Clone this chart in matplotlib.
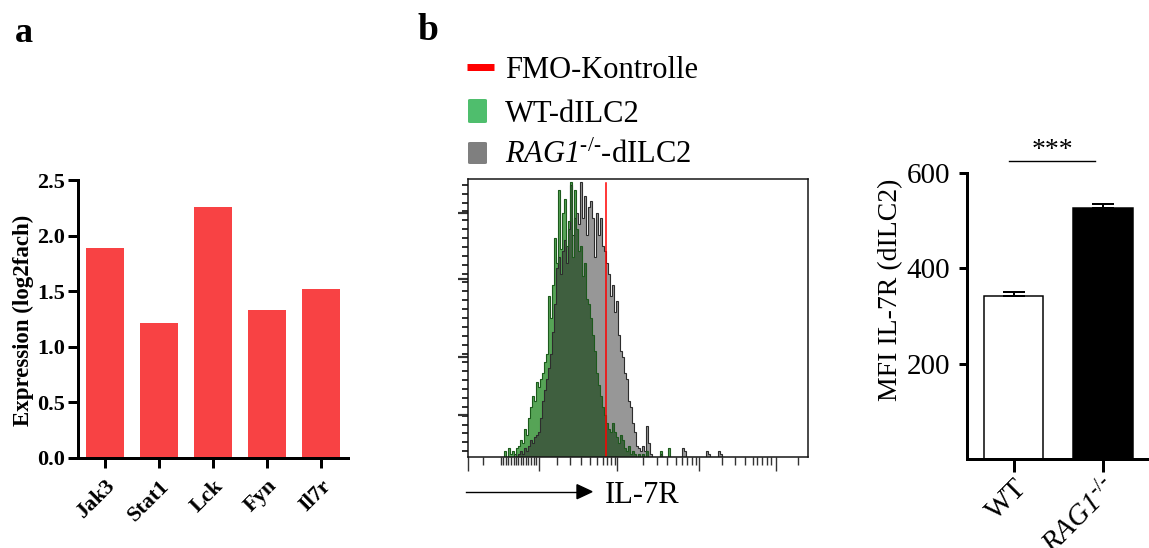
import numpy as np
import matplotlib
matplotlib.use('Agg')
import matplotlib.pyplot as plt
from matplotlib.lines import Line2D
from matplotlib.patches import Polygon, FancyBboxPatch

plt.rcParams['font.family'] = ['Liberation Serif', 'DejaVu Serif']
plt.rcParams['mathtext.fontset'] = 'custom'
plt.rcParams['mathtext.rm'] = 'Liberation Serif'
plt.rcParams['mathtext.it'] = 'Liberation Serif:italic'
plt.rcParams['mathtext.sf'] = 'Liberation Serif:italic'
plt.rcParams['mathtext.bf'] = 'Liberation Serif:bold'

# ---------------- data ----------------
# panel a
genes = ['Jak3', 'Stat1', 'Lck', 'Fyn', 'Il7r']
expression = [1.89, 1.21, 2.26, 1.33, 1.52]

# panel b: flow histogram (% of max), channel bins
hist_bin_start = 97
hist_bin_width = 6
wt_counts = [0, 0, 2, 0, 3, 1, 2, 0, 3, 4,
             6, 5, 10, 8, 14, 18, 22, 20, 27, 25,
             28, 30, 34, 37, 58, 50, 62, 79, 70, 96,
             75, 88, 93, 76, 85, 99, 72, 96, 82, 74,
             76, 65, 70, 57, 55, 50, 44, 38, 30, 26,
             22, 18, 15, 12, 10, 9, 12, 9, 7, 5,
             8, 6, 3, 2, 4, 1, 2, 1, 0, 1,
             0, 1, 0, 2, 0, 0, 0, 0, 0, 0,
             2, 0, 0, 0, 3, 0, 0, 0, 0, 0,
             0, 0, 0, 0, 0, 0, 0, 0, 0, 0,
             0, 0, 0, 0, 0, 0, 0, 0, 0, 0,
             0, 0]
rag_counts = [0, 0, 0, 0, 0, 0, 0, 1, 0, 1,
              2, 1, 3, 2, 4, 6, 5, 7, 8, 9,
              14, 20, 24, 28, 32, 37, 45, 55, 68, 72,
              66, 74, 78, 70, 82, 98, 80, 86, 88, 84,
              99, 86, 94, 80, 90, 92, 86, 72, 88, 80,
              86, 76, 74, 70, 66, 58, 62, 52, 56, 44,
              38, 36, 30, 28, 20, 18, 12, 9, 4, 3,
              2, 4, 2, 11, 5, 1, 0, 0, 0, 0,
              1, 0, 0, 0, 0, 0, 0, 0, 0, 0,
              0, 3, 2, 0, 0, 0, 0, 0, 0, 0,
              0, 0, 0, 2, 1, 0, 0, 0, 0, 2,
              1, 0]
fmo_position = 415
hist_major_ticks = [0, 214, 449, 694, 924]
hist_minor_ticks = [47, 100, 107, 114, 122, 130, 138, 145, 152, 159, 167, 174,
                    182, 190, 198, 206, 267, 307, 339, 367, 387, 407, 419, 431,
                    442, 525, 569, 597, 625, 642, 657, 672, 685, 762, 802, 832,
                    855, 869, 884, 897, 909, 990]

# panel b: MFI bars
groups = ['WT', r'$\mathsf{RAG1}^{\text{-/-}}$']
mfi_mean = [341, 526]
mfi_sem = [10, 8]

# ---------------- layout helpers ----------------
W, H = 1149, 548
fig = plt.figure(figsize=(W / 100, H / 100), dpi=100)


def fx(x):
    return x / W


def fy(y):
    return 1 - y / H


def rect(l, t, r, b):
    return [fx(l), fy(b), (r - l) / W, (b - t) / H]


PX = 72 / 100  # pixel -> point

# ---------------- panel a ----------------
axA = fig.add_axes(rect(78, 180, 348, 457.7))
axA.bar(range(len(genes)), expression, width=0.72, color='#f84244')
axA.set_xlim(-0.5, len(genes) - 0.5)
axA.set_ylim(0, 2.5)
axA.set_yticks([0, 0.5, 1.0, 1.5, 2.0, 2.5])
axA.set_yticklabels(['0.0', '0.5', '1.0', '1.5', '2.0', '2.5'],
                    fontsize=16, fontweight='bold')
axA.set_xticks(range(len(genes)))
axA.set_xticklabels(genes, rotation=45, ha='right', va='top',
                    rotation_mode='anchor', fontsize=16, fontweight='bold')
for s in ['top', 'right']:
    axA.spines[s].set_visible(False)
for s in ['left', 'bottom']:
    axA.spines[s].set_linewidth(3 * PX)
axA.tick_params(axis='both', direction='out', length=7 * PX * 1.4,
                width=3 * PX, pad=2.5)
axA.tick_params(axis='x', pad=6)
fig.text(fx(23), fy(320), 'Expression (log2fach)', rotation=90,
         ha='center', va='center', fontsize=16.5, fontweight='bold')

fig.text(fx(15), fy(42), 'a', fontsize=26, fontweight='bold', va='baseline')
fig.text(fx(418), fy(40), 'b', fontsize=27, fontweight='bold', va='baseline')

# ---------------- panel b: histogram ----------------
axH = fig.add_axes(rect(467.7, 179.3, 807.7, 456.7))
wt = np.array(wt_counts, dtype=float)
rag = np.array(rag_counts, dtype=float)
edges = hist_bin_start + hist_bin_width * np.arange(len(wt) + 1)
axH.stairs(rag, edges, fill=True, color='#979797', lw=0)
axH.stairs(wt, edges, fill=True, color='#56a456', lw=0)
axH.stairs(np.minimum(wt, rag), edges, fill=True, color='#3f5f3f', lw=0)
axH.stairs(rag, edges, color='#2d2d2d', lw=0.8)
axH.stairs(wt, edges, color='#1d5a1d', lw=0.8)
axH.axvline(fmo_position, ymin=0, ymax=0.986, color='#ff0000', lw=1.1)
axH.set_xlim(0, 1020)
axH.set_ylim(0, 100)
for s in axH.spines.values():
    s.set_linewidth(1.5 * PX)
    s.set_color('#111111')
axH.set_xticks(hist_major_ticks)
axH.set_xticks(hist_minor_ticks, minor=True)
axH.set_yticks([15, 36, 64, 88])
axH.set_yticks(np.arange(2, 100, 3.2), minor=True)
axH.tick_params(axis='both', which='major', direction='out', length=10,
                width=1.4 * PX, color='#333333', labelbottom=False,
                labelleft=False)
axH.tick_params(axis='both', which='minor', direction='out', length=5.5,
                width=1.4 * PX, color='#333333')
axH.tick_params(axis='y', which='major', length=7, width=2.2 * PX)
axH.tick_params(axis='y', which='minor', length=4, width=2.0 * PX)

# legend (manual)
fig.add_artist(Line2D([fx(467), fx(494)], [fy(66.7), fy(66.7)],
                      color='#ff0000', lw=7 * PX, transform=fig.transFigure,
                      solid_capstyle='butt'))
fig.add_artist(FancyBboxPatch((fx(468), fy(123)), 19 / W, 24 / H,
                              boxstyle='round,pad=0,rounding_size=0.002',
                              transform=fig.transFigure, color='#4fbe6d', lw=0))
fig.add_artist(FancyBboxPatch((fx(468), fy(164)), 19 / W, 22 / H,
                              boxstyle='round,pad=0,rounding_size=0.002',
                              transform=fig.transFigure, color='#7f7f7f', lw=0))
fig.text(fx(505), fy(78), 'FMO-Kontrolle', fontsize=22, va='baseline')
fig.text(fx(505), fy(122), 'WT-dILC2', fontsize=22, va='baseline')
fig.text(fx(505), fy(163), r'$\mathsf{RAG1}^{\text{-/-}}$-dILC2',
         fontsize=22, va='baseline')

# axis arrow + label
fig.add_artist(Line2D([fx(466), fx(580)], [fy(491.7), fy(491.7)],
                      color='black', lw=1.0, transform=fig.transFigure))
fig.add_artist(Polygon([[fx(577), fy(484.7)], [fx(592), fy(491.7)],
                        [fx(577), fy(498.7)]], closed=True,
                       transform=fig.transFigure, color='black'))
fig.text(fx(605), fy(503), 'IL-7R', fontsize=22, va='baseline')

# ---------------- panel b: MFI bars ----------------
axC = fig.add_axes(rect(967.3, 172.7, 1149, 459))
x = np.arange(len(groups))
axC.bar(x, mfi_mean, width=0.67, color=['white', 'black'],
        edgecolor='black', linewidth=1.5 * PX)
axC.errorbar(x, mfi_mean, yerr=[[0, 0], mfi_sem], fmt='none',
             ecolor='black', elinewidth=2 * PX, capsize=11 * PX,
             capthick=2 * PX)
axC.set_xlim(-0.52, 1.52)
axC.set_ylim(0, 600)
axC.set_yticks([200, 400, 600])
axC.tick_params(axis='y', labelsize=21, length=6 * PX * 1.4, width=3 * PX,
                pad=6.5)
axC.set_xticks(x)
axC.set_xticklabels(groups, rotation=45, ha='right', va='top',
                    rotation_mode='anchor', fontsize=21)
axC.tick_params(axis='x', length=9 * PX * 1.4, width=3 * PX, pad=2)
for s in ['top', 'right']:
    axC.spines[s].set_visible(False)
for s in ['left', 'bottom']:
    axC.spines[s].set_linewidth(3 * PX)
fig.text(fx(891), fy(290), 'MFI IL-7R (dILC2)', rotation=90, ha='center',
         va='center', fontsize=20)

# significance
fig.add_artist(Line2D([fx(1009), fx(1095)], [fy(160.7), fy(160.7)],
                      color='black', lw=1.0, transform=fig.transFigure))
fig.text(fx(1052), fy(157), '***', fontsize=20, ha='center', va='baseline')

fig.savefig('out.png', dpi=100)
